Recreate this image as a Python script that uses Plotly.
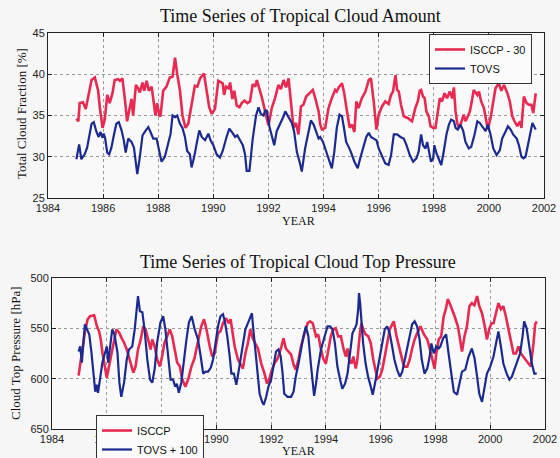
import plotly.graph_objects as go

# ---------------- Top panel: Total cloud fraction (%) ----------------
amount_isccp_year = [1985.03,1985.1,1985.15,1985.27,1985.37,1985.45,1985.58,1985.7,1985.82,1985.88,1985.98,1986.06,1986.15,1986.24,1986.34,1986.42,1986.55,1986.61,1986.7,1986.79,1986.87,1986.97,1987.03,1987.09,1987.19,1987.27,1987.33,1987.43,1987.49,1987.58,1987.66,1987.76,1987.84,1987.9,1987.96,1988.04,1988.08,1988.18,1988.3,1988.42,1988.52,1988.61,1988.69,1988.79,1988.88,1988.99,1989.09,1989.21,1989.33,1989.42,1989.52,1989.66,1989.76,1989.85,1989.94,1990.06,1990.18,1990.27,1990.34,1990.39,1990.46,1990.55,1990.61,1990.69,1990.76,1990.85,1990.95,1991.03,1991.13,1991.24,1991.33,1991.43,1991.52,1991.58,1991.67,1991.76,1991.88,1992.0,1992.12,1992.24,1992.36,1992.45,1992.55,1992.64,1992.73,1992.81,1992.91,1993.0,1993.09,1993.18,1993.27,1993.37,1993.49,1993.61,1993.7,1993.82,1993.88,1993.94,1994.06,1994.18,1994.3,1994.42,1994.48,1994.55,1994.67,1994.75,1994.85,1994.95,1995.03,1995.12,1995.19,1995.27,1995.39,1995.52,1995.64,1995.72,1995.82,1995.92,1996.0,1996.12,1996.24,1996.36,1996.45,1996.52,1996.61,1996.67,1996.73,1996.81,1996.91,1997.05,1997.21,1997.33,1997.42,1997.49,1997.54,1997.61,1997.67,1997.73,1997.82,1997.88,1997.98,1998.06,1998.15,1998.22,1998.3,1998.39,1998.48,1998.58,1998.67,1998.73,1998.79,1998.85,1998.91,1998.99,1999.09,1999.15,1999.21,1999.31,1999.39,1999.45,1999.58,1999.64,1999.72,1999.82,1999.92,1999.96,2000.06,2000.16,2000.24,2000.36,2000.45,2000.55,2000.67,2000.76,2000.85,2000.93,2001.03,2001.13,2001.18,2001.27,2001.37,2001.45,2001.54,2001.61,2001.7]
amount_isccp = [34.6,34.3,36.5,36.6,35.8,37.0,39.3,39.6,38.0,36.0,33.5,34.5,37.5,36.5,37.7,39.3,39.4,39.2,39.5,37.0,34.3,36.0,37.0,35.0,38.7,38.3,37.8,39.0,38.0,39.2,38.0,38.5,36.5,35.0,36.5,35.0,34.9,38.0,38.5,39.6,39.7,42.0,40.0,38.0,35.0,33.5,34.0,36.5,38.6,38.5,39.5,40.1,38.0,36.0,35.2,35.8,39.2,39.0,38.9,37.5,38.5,38.3,39.0,37.0,38.0,36.2,36.0,36.5,36.8,36.5,36.7,38.8,38.5,39.3,38.3,37.2,35.5,33.8,35.9,37.1,38.7,38.2,39.3,38.4,39.5,36.7,33.5,34.1,32.7,36.1,36.3,37.3,37.7,38.1,37.1,35.5,33.9,33.3,33.5,35.9,37.1,38.1,37.9,38.4,38.9,37.7,35.5,33.5,33.9,33.0,36.7,35.9,37.1,37.9,39.3,39.5,36.7,33.3,35.1,36.1,36.7,36.4,37.5,37.9,39.9,38.1,37.9,36.3,34.9,34.7,34.3,35.9,36.7,38.0,38.1,37.3,37.1,35.5,34.9,33.7,33.5,33.5,35.5,37.1,36.7,37.7,37.1,37.9,37.1,38.4,35.5,34.1,33.5,34.1,35.1,34.3,34.7,35.5,36.9,38.1,37.5,37.9,36.7,35.9,34.1,33.3,34.7,36.7,38.3,38.9,38.0,38.7,37.7,36.7,34.9,34.3,33.7,34.3,33.5,37.3,36.5,36.3,36.3,35.3,37.7]

amount_tovs_year = [1985.03,1985.13,1985.21,1985.33,1985.42,1985.52,1985.58,1985.66,1985.76,1985.84,1985.9,1985.98,1986.02,1986.07,1986.15,1986.22,1986.3,1986.39,1986.48,1986.57,1986.67,1986.75,1986.82,1986.91,1987.03,1987.12,1987.19,1987.24,1987.33,1987.43,1987.55,1987.64,1987.72,1987.82,1987.94,1988.04,1988.12,1988.24,1988.36,1988.45,1988.52,1988.61,1988.69,1988.79,1988.88,1988.97,1989.05,1989.15,1989.21,1989.3,1989.39,1989.49,1989.58,1989.7,1989.82,1989.9,1990.0,1990.12,1990.24,1990.34,1990.48,1990.58,1990.67,1990.79,1990.87,1990.97,1991.07,1991.15,1991.21,1991.31,1991.43,1991.55,1991.64,1991.72,1991.82,1991.88,1991.94,1992.04,1992.12,1992.21,1992.3,1992.42,1992.55,1992.61,1992.73,1992.85,1992.93,1993.03,1993.13,1993.21,1993.33,1993.45,1993.54,1993.64,1993.73,1993.82,1993.88,1993.98,1994.06,1994.18,1994.3,1994.39,1994.48,1994.58,1994.67,1994.75,1994.82,1994.91,1994.99,1995.12,1995.24,1995.33,1995.43,1995.55,1995.64,1995.72,1995.82,1995.92,1996.0,1996.12,1996.24,1996.36,1996.45,1996.55,1996.67,1996.79,1996.91,1997.01,1997.13,1997.25,1997.37,1997.45,1997.54,1997.61,1997.7,1997.76,1997.85,1997.9,1997.98,1998.02,1998.1,1998.18,1998.27,1998.36,1998.46,1998.55,1998.63,1998.73,1998.79,1998.87,1998.97,1999.07,1999.15,1999.27,1999.36,1999.48,1999.58,1999.67,1999.8,1999.88,1999.96,2000.06,2000.16,2000.28,2000.4,2000.48,2000.61,2000.69,2000.79,2000.88,2001.01,2001.09,2001.18,2001.25,2001.33,2001.42,2001.5,2001.58,2001.67,2001.7]
amount_tovs = [29.7,31.5,29.7,30.3,31.1,32.8,34.0,34.2,33.0,32.4,33.0,32.3,32.8,32.3,30.5,30.3,31.1,32.6,34.0,34.2,33.2,32.0,30.5,32.2,31.8,31.1,29.0,27.9,29.9,32.6,33.2,33.6,33.0,32.2,32.2,30.7,29.4,30.0,31.5,32.8,35.0,34.8,35.0,34.0,33.5,32.4,30.7,30.3,28.7,29.9,31.5,33.2,32.4,32.0,32.8,32.0,31.4,30.3,29.9,30.7,32.4,33.4,33.0,32.4,32.6,32.0,31.4,30.3,28.3,28.3,32.2,35.0,36.0,35.2,35.0,35.6,35.6,33.6,32.6,31.4,33.1,33.9,34.9,35.5,34.7,34.1,33.1,30.6,29.4,28.2,31.0,33.1,34.4,33.9,33.1,32.2,32.4,31.8,31.0,29.8,28.6,30.6,33.5,35.1,34.9,33.3,31.8,31.2,30.6,29.4,28.6,29.8,31.0,32.4,32.9,32.4,32.2,32.0,31.0,30.0,29.2,29.0,30.2,32.7,32.7,32.4,32.2,31.4,30.2,29.4,29.8,30.6,32.7,31.4,31.0,31.8,30.0,29.4,29.8,31.4,30.4,29.8,29.0,30.6,32.7,33.9,34.5,34.3,33.5,33.3,33.9,33.1,31.8,31.0,31.2,32.7,34.3,34.1,33.5,33.1,33.9,32.7,31.0,30.2,30.8,32.2,33.1,33.7,33.3,32.7,32.2,31.4,30.0,29.8,30.0,31.4,32.7,34.1,33.5,33.3]

# ---------------- Bottom panel: Cloud top pressure (hPa) ----------------
ctp_isccp_year = [1984.97,1985.02,1985.12,1985.2,1985.3,1985.39,1985.54,1985.64,1985.72,1985.78,1985.84,1985.93,1986.0,1986.08,1986.17,1986.27,1986.35,1986.45,1986.53,1986.63,1986.73,1986.81,1986.9,1986.97,1987.05,1987.14,1987.24,1987.33,1987.42,1987.48,1987.54,1987.6,1987.66,1987.75,1987.84,1987.94,1988.02,1988.11,1988.2,1988.3,1988.39,1988.47,1988.57,1988.67,1988.75,1988.87,1988.98,1989.09,1989.2,1989.33,1989.45,1989.55,1989.64,1989.76,1989.85,1989.94,1990.06,1990.15,1990.24,1990.36,1990.45,1990.52,1990.58,1990.67,1990.79,1990.88,1990.97,1991.06,1991.15,1991.24,1991.33,1991.42,1991.52,1991.64,1991.76,1991.85,1991.94,1992.03,1992.12,1992.24,1992.36,1992.45,1992.54,1992.63,1992.73,1992.82,1992.9,1993.0,1993.09,1993.21,1993.33,1993.42,1993.52,1993.64,1993.72,1993.8,1993.9,1994.0,1994.09,1994.18,1994.27,1994.36,1994.45,1994.55,1994.64,1994.73,1994.79,1994.85,1994.94,1995.0,1995.09,1995.15,1995.24,1995.3,1995.36,1995.45,1995.55,1995.64,1995.73,1995.82,1995.88,1995.97,1996.06,1996.15,1996.24,1996.33,1996.42,1996.48,1996.58,1996.67,1996.76,1996.85,1996.97,1997.06,1997.15,1997.24,1997.33,1997.45,1997.58,1997.7,1997.8,1997.88,1997.97,1998.03,1998.12,1998.21,1998.3,1998.38,1998.45,1998.52,1998.6,1998.7,1998.82,1998.9,1998.97,1999.06,1999.15,1999.24,1999.33,1999.42,1999.52,1999.6,1999.7,1999.8,1999.88,1999.97,2000.05,2000.12,2000.21,2000.3,2000.39,2000.48,2000.57,2000.67,2000.76,2000.85,2000.94,2001.03,2001.12,2001.21,2001.3,2001.39,2001.48,2001.58,2001.64,2001.7]
ctp_isccp = [597,588,568,554,541,538,537,548,553,561,574,588,599,588,574,562,551,554,559,564,571,578,588,594,588,571,561,548,551,558,564,571,561,568,581,588,578,564,558,551,558,568,584,588,600,608,600,588,580,563,548,541,551,568,578,575,555,553,545,540,545,541,551,568,581,586,590,575,565,551,560,565,570,585,595,605,600,591,585,580,570,560,570,573,576,586,591,581,568,556,545,543,545,558,556,568,580,585,571,558,551,550,558,558,570,578,570,581,585,578,590,581,555,545,551,556,558,565,581,595,600,598,591,578,565,551,546,543,558,568,578,588,588,581,570,561,555,548,556,561,571,581,590,575,561,558,538,531,521,525,530,538,548,561,573,558,548,528,525,527,518,528,535,548,561,550,545,545,535,525,531,528,538,551,565,575,575,568,575,578,581,585,588,565,546,543]

ctp_tovs_year = [1984.97,1985.03,1985.09,1985.15,1985.2,1985.28,1985.36,1985.44,1985.52,1985.58,1985.63,1985.68,1985.75,1985.84,1985.92,1986.0,1986.05,1986.12,1986.2,1986.28,1986.39,1986.46,1986.53,1986.63,1986.73,1986.81,1986.93,1987.02,1987.09,1987.14,1987.21,1987.3,1987.39,1987.48,1987.58,1987.66,1987.75,1987.84,1987.96,1988.06,1988.14,1988.23,1988.33,1988.42,1988.5,1988.56,1988.63,1988.72,1988.81,1988.91,1989.0,1989.1,1989.2,1989.33,1989.43,1989.52,1989.61,1989.7,1989.8,1989.88,1989.97,1990.06,1990.15,1990.24,1990.31,1990.4,1990.49,1990.55,1990.64,1990.73,1990.8,1990.88,1990.97,1991.06,1991.15,1991.24,1991.3,1991.34,1991.4,1991.45,1991.52,1991.58,1991.67,1991.73,1991.82,1991.9,1992.0,1992.09,1992.18,1992.27,1992.35,1992.42,1992.48,1992.6,1992.73,1992.82,1992.9,1993.0,1993.09,1993.18,1993.27,1993.36,1993.45,1993.52,1993.57,1993.64,1993.7,1993.82,1993.94,1994.06,1994.15,1994.24,1994.33,1994.42,1994.52,1994.6,1994.7,1994.79,1994.88,1994.97,1995.06,1995.12,1995.18,1995.21,1995.25,1995.3,1995.36,1995.45,1995.54,1995.64,1995.71,1995.79,1995.88,1995.97,1996.06,1996.15,1996.24,1996.33,1996.42,1996.5,1996.6,1996.7,1996.79,1996.88,1996.97,1997.06,1997.15,1997.24,1997.33,1997.42,1997.5,1997.6,1997.7,1997.79,1997.85,1997.94,1998.03,1998.12,1998.18,1998.28,1998.39,1998.48,1998.58,1998.67,1998.79,1998.88,1998.97,1999.09,1999.21,1999.33,1999.43,1999.52,1999.6,1999.7,1999.79,1999.88,2000.0,2000.12,2000.24,2000.3,2000.39,2000.48,2000.6,2000.7,2000.79,2000.88,2000.97,2001.09,2001.18,2001.24,2001.33,2001.42,2001.52,2001.61,2001.7]
ctp_tovs = [573,568,584,560,546,551,556,574,601,613,606,614,601,584,576,568,584,568,551,556,574,604,618,604,581,571,568,551,528,518,533,534,554,581,601,604,590,564,544,538,551,574,601,601,608,605,614,604,581,561,544,538,550,561,578,595,593,593,589,581,565,548,538,536,543,558,578,595,595,606,595,581,565,551,545,540,535,548,565,585,598,615,623,626,618,608,601,585,573,571,578,595,615,618,618,613,598,585,571,558,548,558,585,608,617,605,591,571,558,548,548,551,565,588,601,610,605,595,575,555,550,546,531,515,525,541,565,585,598,608,616,605,591,575,561,551,548,555,568,581,591,598,593,581,571,558,546,543,548,561,581,595,590,578,565,575,568,570,568,560,556,575,598,613,616,605,593,591,578,570,580,598,615,623,610,595,588,578,561,553,568,585,595,601,598,591,583,575,558,543,550,565,585,595,595]

year_ticks = [1984, 1986, 1988, 1990, 1992, 1994, 1996, 1998, 2000, 2002]
amount_ticks = [25, 30, 35, 40, 45]
ctp_ticks = [500, 550, 600, 650]

RED = "#e62a52"
BLUE = "#1b2a8e"
W, H = 560, 458
SERIF = "Liberation Serif, Times New Roman, serif"
SANS = "Liberation Sans, Arial, sans-serif"

fig = go.Figure()
fig.add_trace(go.Scatter(x=amount_isccp_year, y=amount_isccp, mode="lines", name="ISCCP - 30",
                         line=dict(color=RED, width=2.6), xaxis="x", yaxis="y", legend="legend"))
fig.add_trace(go.Scatter(x=amount_tovs_year, y=amount_tovs, mode="lines", name="TOVS",
                         line=dict(color=BLUE, width=2.2), xaxis="x", yaxis="y", legend="legend"))
fig.add_trace(go.Scatter(x=ctp_isccp_year, y=ctp_isccp, mode="lines", name="ISCCP",
                         line=dict(color=RED, width=2.6), xaxis="x2", yaxis="y2", legend="legend2"))
fig.add_trace(go.Scatter(x=ctp_tovs_year, y=ctp_tovs, mode="lines", name="TOVS + 100",
                         line=dict(color=BLUE, width=2.2), xaxis="x2", yaxis="y2", legend="legend2"))

def px_x(p):
    return p / W

def px_y(p):
    return 1 - p / H

axis_common = dict(showline=True, linecolor="#222", linewidth=1, mirror="ticks", ticks="inside",
                   ticklen=4, tickcolor="#222", showgrid=True, gridcolor="#9a9a9a", griddash="dot",
                   gridwidth=1, zeroline=False, automargin=False,
                   tickfont=dict(family=SANS, size=11, color="#222"))

def label(text, x, y, size, angle=0, family=SERIF):
    return dict(text=text, x=px_x(x), y=px_y(y), xref="paper", yref="paper", showarrow=False,
                xanchor="center", yanchor="middle", textangle=angle,
                font=dict(family=family, size=size, color="#111"))

fig.update_layout(
    width=W, height=H,
    margin=dict(l=0, r=0, t=0, b=0, pad=0, autoexpand=False),
    paper_bgcolor="#f6f6f6", plot_bgcolor="#f9f9f9",
    showlegend=True,
    xaxis=dict(domain=[px_x(48), px_x(544)], range=[1984, 2002], tickvals=year_ticks,
               anchor="y", **axis_common),
    yaxis=dict(domain=[px_y(198), px_y(33)], range=[25, 45], tickvals=amount_ticks,
               anchor="x", **axis_common),
    xaxis2=dict(domain=[px_x(52), px_x(545)], range=[1984, 2002], tickvals=year_ticks,
                anchor="y2", **axis_common),
    yaxis2=dict(domain=[px_y(429), px_y(278)], range=[650, 500], tickvals=ctp_ticks,
                anchor="x2", **axis_common),
    legend=dict(x=px_x(429), y=px_y(34), xanchor="left", yanchor="top", bgcolor="#fbfbfb",
                bordercolor="#333", borderwidth=1, font=dict(family=SANS, size=11, color="#111"),
                itemwidth=30, tracegroupgap=0),
    legend2=dict(x=px_x(96), y=px_y(415), xanchor="left", yanchor="top", bgcolor="#fbfbfb",
                 bordercolor="#333", borderwidth=1, font=dict(family=SANS, size=11, color="#111"),
                 itemwidth=30, tracegroupgap=0),
    annotations=[
        label("Time Series of Tropical Cloud Amount", 300, 16, 18),
        label("Time Series of Tropical Cloud Top Pressure", 298, 262, 18),
        label("YEAR", 298, 221, 12),
        label("YEAR", 298, 451, 12),
        label("Total Cloud Fraction [%]", 21, 114, 13, angle=-90),
        label("Cloud Top Pressure [hPa]", 15, 353, 13, angle=-90),
    ],
)

fig.write_html("out.html", config={"displayModeBar": False},
               post_script="document.body.style.margin='0';document.body.style.overflow='hidden';")
